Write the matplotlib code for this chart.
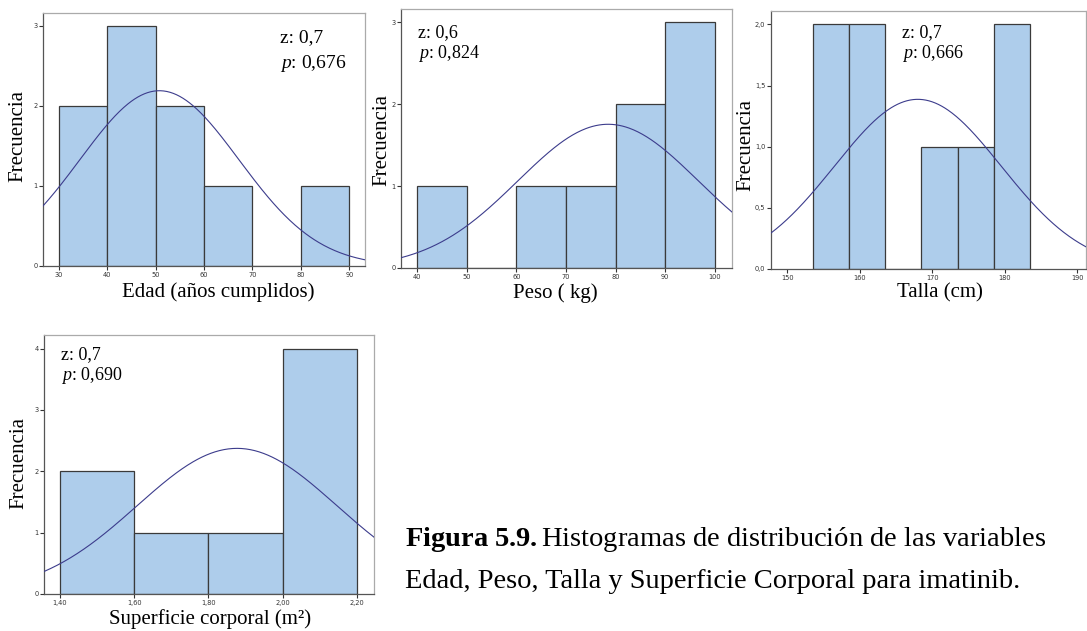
import numpy as np
import matplotlib
matplotlib.use('Agg')
import matplotlib.pyplot as plt

# datos de los histogramas (frecuencias por intervalo)
edad_bins = [30, 40, 50, 60, 70, 80, 90]
edad_freq = [2, 3, 2, 1, 0, 1]
edad_media, edad_sd = 50.8, 16.4

peso_bins = [40, 50, 60, 70, 80, 90, 100]
peso_freq = [1, 0, 1, 1, 2, 3]
peso_media, peso_sd = 78.5, 18.2

talla_bins = [153.5, 158.5, 163.5, 168.5, 173.5, 178.5, 183.5]
talla_freq = [2, 2, 0, 1, 1, 2]
talla_media, talla_sd = 168.0, 11.5

sc_bins = [1.40, 1.60, 1.80, 2.00, 2.20]
sc_freq = [2, 1, 1, 4]
sc_media, sc_sd = 1.877, 0.269

# estadístico z y p de Kolmogorov-Smirnov
z_vals = ['0,7', '0,6', '0,7', '0,7']
p_vals = ['0,676', '0,824', '0,666', '0,690']

plt.rcParams['mathtext.fontset'] = 'custom'
plt.rcParams['mathtext.rm'] = 'Liberation Serif'
plt.rcParams['mathtext.it'] = 'Liberation Serif:italic'
plt.rcParams['mathtext.bf'] = 'Liberation Serif:bold'

W, H = 1087, 631
fig = plt.figure(figsize=(W / 100, H / 100), dpi=100)
serif = 'Liberation Serif'


def px_ax(l, r, t, b):
    return fig.add_axes([l / W, 1 - b / H, (r - l) / W, (b - t) / H])


def histo(ax, bins, freq, media, sd, xlim, ylim, xticks, yticks, xfmt, yfmt):
    bins = np.array(bins)
    ancho = bins[1] - bins[0]
    ax.bar(bins[:-1], freq, width=np.diff(bins), align='edge',
           color='#aecdeb', edgecolor='#3a3a3a', linewidth=0.9, zorder=2)
    x = np.linspace(xlim[0], xlim[1], 300)
    n = sum(freq)
    y = n * ancho / (sd * np.sqrt(2 * np.pi)) * np.exp(-0.5 * ((x - media) / sd) ** 2)
    ax.plot(x, y, color='#3c3c8c', linewidth=0.8, zorder=3)
    ax.set_xlim(xlim)
    ax.set_ylim(ylim)
    ax.set_xticks(xticks)
    ax.set_xticklabels([xfmt(v) for v in xticks])
    ax.set_yticks(yticks)
    ax.set_yticklabels([yfmt(v) for v in yticks])
    ax.tick_params(labelsize=4.8, length=3, width=0.8, pad=1, colors='#333333')
    for s in ['top', 'right']:
        ax.spines[s].set_color('#aaaaaa')
    for s in ['left', 'bottom']:
        ax.spines[s].set_color('#555555')
    for s in ax.spines.values():
        s.set_linewidth(0.9)


ent = lambda v: '%d' % v
coma1 = lambda v: ('%.1f' % v).replace('.', ',')
coma2 = lambda v: ('%.2f' % v).replace('.', ',')

ax1 = px_ax(43, 365, 13, 266)
histo(ax1, edad_bins, edad_freq, edad_media, edad_sd, (26.8, 93.2), (0, 3.16),
      [30, 40, 50, 60, 70, 80, 90], [0, 1, 2, 3], ent, ent)
ax2 = px_ax(401, 732, 9, 268)
histo(ax2, peso_bins, peso_freq, peso_media, peso_sd, (36.7, 103.5), (0, 3.16),
      [40, 50, 60, 70, 80, 90, 100], [0, 1, 2, 3], ent, ent)
ax3 = px_ax(771, 1086, 11, 269)
histo(ax3, talla_bins, talla_freq, talla_media, talla_sd, (147.75, 191.2), (0, 2.11),
      [150, 160, 170, 180, 190], [0, 0.5, 1.0, 1.5, 2.0], ent, coma1)
ax4 = px_ax(44, 374, 335, 594)
histo(ax4, sc_bins, sc_freq, sc_media, sc_sd, (1.357, 2.246), (0, 4.22),
      [1.4, 1.6, 1.8, 2.0, 2.2], [0, 1, 2, 3, 4], coma2, ent)


def ftext(x, y, s, **kw):
    kw.setdefault('family', serif)
    kw.setdefault('va', 'center')
    fig.text(x / W, 1 - y / H, s, **kw)


# etiquetas de los ejes
ftext(218, 292, 'Edad (años cumplidos)', fontsize=15, ha='center')
ftext(555, 293, 'Peso ( kg)', fontsize=15, ha='center')
ftext(940, 293, 'Talla (cm)', fontsize=15, ha='center')
ftext(210, 619, 'Superficie corporal (m²)', fontsize=15, ha='center')
for xx, yy in [(18, 136), (382, 140), (746, 145), (19, 463)]:
    ftext(xx, yy, 'Frecuencia', fontsize=15, ha='center', rotation=90)

# valores z y p
pos = [(280, 38, 63, 14), (418, 33, 53, 13), (902, 33, 53, 13), (61, 355, 375, 13)]
for (xx, yz, yp, fs), z, p in zip(pos, z_vals, p_vals):
    ftext(xx, yz, 'z: ' + z, fontsize=fs, ha='left')
    ftext(xx, yp, '$p$: ' + p, fontsize=fs, ha='left')

# pie de figura
ftext(405, 540, r'$\mathbf{Figura\ 5.9.}$Histogramas de distribución de las variables',
      fontsize=20.5, ha='left')
ftext(405, 582, 'Edad, Peso, Talla y Superficie Corporal para imatinib.',
      fontsize=20.5, ha='left')

fig.savefig('out.png', dpi=100)
